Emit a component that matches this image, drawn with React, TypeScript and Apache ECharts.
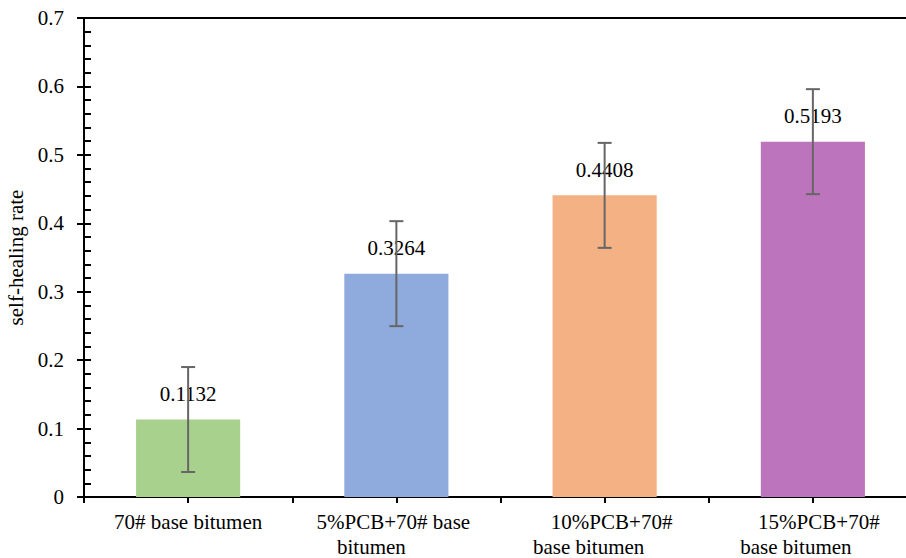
import React, { useEffect, useRef } from "react";
import * as echarts from "echarts";

const categories = [
  "70# base bitumen",
  "5%PCB+70# base\nbitumen",
  "10%PCB+70#\nbase bitumen",
  "15%PCB+70#\nbase bitumen",
];
const rates = [0.1132, 0.3264, 0.4408, 0.5193];
const errors = [0.0767, 0.0767, 0.0767, 0.0767];
const barColors = ["#A9D18E", "#8FAADC", "#F4B183", "#BC75BC"];
const yTickMin = 0;
const yTickMax = 0.7;
const yTickStep = 0.1;

const FONT = "Liberation Serif";
const FS = 21;
// horizontal shift of each label line (px), to mimic the original wrapping
const lineShifts = [
  [0, 0],
  [-3, -25],
  [7, -16],
  [6, -17],
];

function pad(s: number) {
  return s >= 0 ? [0, 0, 0, 2 * s] : [0, -2 * s, 0, 0];
}

export default function App() {
  const ref = useRef<HTMLDivElement>(null);
  useEffect(() => {
    if (!ref.current) return;
    const chart = echarts.init(ref.current, undefined, { renderer: "svg" });
    const axisLineStyle = { color: "#000", width: 2 };
    const rich: Record<string, any> = {};
    lineShifts.forEach((sh, i) => {
      rich["a" + i] = { fontSize: FS, fontFamily: FONT, color: "#000", lineHeight: 25, padding: pad(sh[0]) };
      rich["b" + i] = { fontSize: FS, fontFamily: FONT, color: "#000", lineHeight: 25, padding: pad(sh[1]) };
    });
    const option: any = {
      animation: false,
      backgroundColor: "#fff",
      textStyle: { fontFamily: FONT },
      grid: { left: 84, top: 18, width: 833, height: 479, outerBoundsMode: "none", containLabel: false },
      xAxis: [
        {
          type: "category",
          data: categories,
          position: "bottom",
          axisLine: { show: true, onZero: false, lineStyle: axisLineStyle },
          axisTick: { show: true, length: 6, lineStyle: axisLineStyle },
          axisLabel: {
            interval: 0,
            margin: 12,
            hideOverlap: false,
            fontSize: FS,
            fontFamily: FONT,
            color: "#000",
            lineHeight: 25,
            formatter: (v: string, i: number) => {
              const parts = v.split("\n");
              return parts.map((p, k) => `{${k === 0 ? "a" : "b"}${i}|${p}}`).join("\n");
            },
            rich,
          },
          splitLine: { show: false },
        },
        {
          type: "category",
          data: categories,
          position: "bottom",
          axisLine: { show: false, onZero: false },
          axisTick: { show: true, alignWithLabel: true, length: 6, lineStyle: axisLineStyle },
          axisLabel: { show: false },
          splitLine: { show: false },
        },
        {
          type: "category",
          data: categories,
          position: "top",
          axisLine: { show: true, onZero: false, lineStyle: axisLineStyle },
          axisTick: { show: false },
          axisLabel: { show: false },
          splitLine: { show: false },
        },
      ],
      yAxis: [
        {
          type: "value",
          min: yTickMin,
          max: yTickMax,
          interval: yTickStep,
          position: "left",
          name: "self-healing rate",
          nameLocation: "middle",
          nameGap: 58,
          nameTextStyle: { fontSize: FS, fontFamily: FONT, color: "#000" },
          axisLine: { show: true, onZero: false, lineStyle: axisLineStyle },
          axisTick: { show: true, length: 7, lineStyle: axisLineStyle },
          axisLabel: { fontSize: FS, fontFamily: FONT, color: "#000", margin: 20 },
          splitLine: { show: false },
        },
        {
          type: "value",
          min: yTickMin,
          max: yTickMax,
          interval: yTickStep,
          position: "left",
          axisLine: { show: false, onZero: false },
          axisTick: { show: true, inside: true, length: 7, lineStyle: axisLineStyle },
          minorTick: { show: true, splitNumber: 5, length: 7, lineStyle: axisLineStyle },
          axisLabel: { show: false },
          splitLine: { show: false },
        },
      ],
      series: [
        {
          type: "bar",
          xAxisIndex: 0,
          yAxisIndex: 0,
          barWidth: "50%",
          z: 2,
          data: rates.map((v, i) => ({ value: v, itemStyle: { color: barColors[i] } })),
          label: {
            show: true,
            position: "top",
            distance: 15,
            fontSize: FS,
            fontFamily: FONT,
            color: "#000",
            formatter: (p: any) => p.value.toFixed(4),
          },
        },
        {
          type: "custom",
          xAxisIndex: 0,
          yAxisIndex: 0,
          z: 5,
          data: rates.map((v, i) => [i, v + errors[i], v - errors[i]]),
          encode: { x: 0, y: [1, 2] },
          renderItem: (params: any, api: any) => {
            const x = api.value(0);
            const top = api.coord([x, api.value(1)]);
            const bot = api.coord([x, api.value(2)]);
            const half = 7;
            const st = { stroke: "#666", lineWidth: 2 };
            return {
              type: "group",
              children: [
                { type: "line", shape: { x1: top[0], y1: top[1], x2: bot[0], y2: bot[1] }, style: st },
                { type: "line", shape: { x1: top[0] - half, y1: top[1], x2: top[0] + half, y2: top[1] }, style: st },
                { type: "line", shape: { x1: bot[0] - half, y1: bot[1], x2: bot[0] + half, y2: bot[1] }, style: st },
              ],
            };
          },
        },
      ],
    };
    chart.setOption(option);
    return () => chart.dispose();
  }, []);
  return (
    <div
      ref={ref}
      style={{ position: "fixed", left: 0, top: 0, width: 906, height: 558, background: "#fff" }}
    />
  );
}
